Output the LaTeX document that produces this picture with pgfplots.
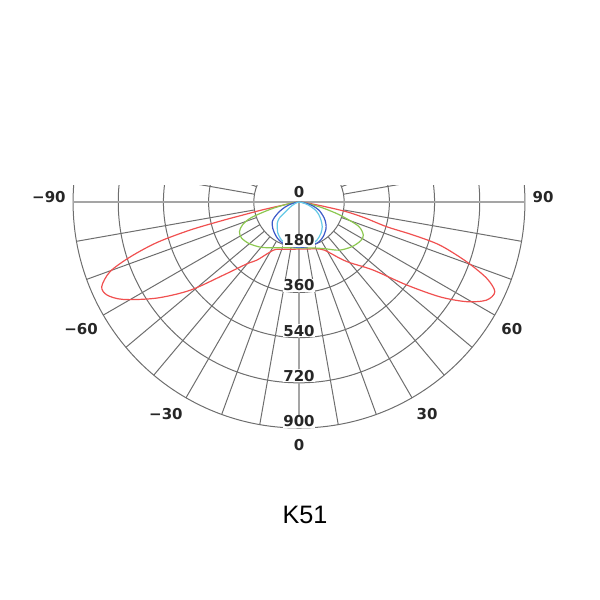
\documentclass[border=0pt]{standalone}
\usepackage{pgfplots}
\usepackage{pgfplotstable}
\usepackage{fontspec}
\pgfplotsset{compat=1.18}
\newfontfamily\labfont{DejaVu Sans}
\newfontfamily\titfont{Liberation Sans}
\definecolor{cred}{RGB}{240,80,80}
\definecolor{cgreen}{RGB}{140,200,80}
\definecolor{cblue}{RGB}{60,90,200}
\definecolor{ccyan}{RGB}{100,200,230}
\definecolor{gridc}{RGB}{110,110,110}
\definecolor{axc}{RGB}{165,165,165}

% angle from nadir (deg), intensity (cd)
\pgfplotstableread{
a I
-90 0
-85 14
-80 45
-78 150
-77 230
-76.5 310
-75.6 448
-74.1 589
-72 707
-69.8 802
-66.8 855
-64.2 850
-61 800
-56 684
-51 558
-46 419
-40 320
-36 286
-28 217
-20 200
-10 191
0 187
10 190
20 198
28 217
36 277
40 315
47.5 401
52.4 541
56.1 677
59.3 777
62.4 843
65.4 858
67.9 807
70.4 709
73 587
73.9 474
74.3 363
76.5 270
78.5 194
80 110
83 40
86 12
90 0
}\redtab

\pgfplotstableread{
a I
-90 0
-85 15
-80 50
-76 115
-72 200
-68 243
-63.5 265
-58 270
-50 258
-40 235
-30 210
-20 193
-10 185
0 183
10 186
20 195
30 215
40 250
50 276
58 290
62.8 288
68 255
72.4 171
76 100
80 45
85 14
90 0
}\greentab

\pgfplotstableread{
a I
-90 0
-85 8
-80 20
-75 38
-70 60
-64 88
-58 115
-53.6 132
-45 148
-35 162
-27.8 171
-20 177
-10 180
0 180
10 181
20 179
26.7 177
35 168
45 152
51.3 137
58 118
68 86
75 55
80 30
85 12
90 0
}\bluetab

\pgfplotstableread{
a I
-90 0
-80 5
-70 15
-62 35
-55.6 58
-51 100
-46 120
-43.3 126
-35 148
-25 166
-15 175
0 178
15 176
25 168
35 152
43.3 135
50 115
57 95
64 73
72 40
80 15
90 0
}\cyantab

\begin{document}
\begin{tikzpicture}
\begin{axis}[
  at={(0,0)}, anchor=south west,
  scale only axis, width=300pt, height=300pt,
  xmin=-1191, xmax=1199, ymin=-1585, ymax=805,
  hide axis, clip=false,
]
% grid
\begin{scope}
\clip (axis cs:-1000,-1000) rectangle (axis cs:1000,68);
\pgfplotsinvokeforeach{180,360,540,720,900}{
  \draw[gridc, line width=0.5pt] (axis cs:0,0) circle[radius=#1];
}
\pgfplotsinvokeforeach{10,20,30,40,50,60,70,80,100,110,120,130,140,150,160,170,190,200,210,220,230,240,250,260,280,290,300,310,320,330,340,350}{
  \draw[gridc, line width=0.5pt] (axis cs:{180*cos(#1)},{180*sin(#1)}) -- (axis cs:{900*cos(#1)},{900*sin(#1)});
}
\draw[axc, line width=0.8pt] (axis cs:-900,0) -- (axis cs:900,0);
\draw[axc, line width=0.8pt] (axis cs:0,0) -- (axis cs:0,-900);
\end{scope}

% curves
\addplot[cred, line width=0.6pt, smooth, tension=0.5] table[x expr={\thisrow{I}*sin(\thisrow{a})}, y expr={-\thisrow{I}*cos(\thisrow{a})}] {\redtab};
\addplot[cgreen, line width=0.6pt, smooth, tension=0.5] table[x expr={\thisrow{I}*sin(\thisrow{a})}, y expr={-\thisrow{I}*cos(\thisrow{a})}] {\greentab};
\addplot[cblue, line width=0.6pt, smooth, tension=0.5] table[x expr={\thisrow{I}*sin(\thisrow{a})}, y expr={-\thisrow{I}*cos(\thisrow{a})}] {\bluetab};
\addplot[ccyan, line width=0.6pt, smooth, tension=0.5] table[x expr={\thisrow{I}*sin(\thisrow{a})}, y expr={-\thisrow{I}*cos(\thisrow{a})}] {\cyantab};

% radial labels
\node[anchor=base, font=\labfont\bfseries\fontsize{7.5}{9}\selectfont, text=black!85, inner sep=0.4pt, fill=white] at (axis cs:0,18) {0};
\pgfplotsinvokeforeach{180,360,540,720,900}{
  \node[anchor=base, font=\labfont\bfseries\fontsize{7.5}{9}\selectfont, text=black!85, inner sep=0.4pt, fill=white] at (axis cs:0,{-#1+6}) {#1};
}
% angle labels
\begin{scope}[every node/.style={anchor=center, font=\labfont\bfseries\fontsize{7.5}{9}\selectfont, text=black!85, inner sep=0pt}]
\node at (axis cs:-996,20) {−90};
\node at (axis cs:972,20) {90};
\node at (axis cs:-868,-506) {−60};
\node at (axis cs:848,-506) {60};
\node at (axis cs:-530,-846) {−30};
\node at (axis cs:510,-846) {30};
\node at (axis cs:0,-968) {0};
\end{scope}
% title
\node[anchor=base, font=\titfont\fontsize{12.6}{15}\selectfont, inner sep=0pt] at (axis cs:24,-1282) {K51};
\end{axis}
\path (0,0) rectangle (300pt,300pt);
\end{tikzpicture}
\end{document}
